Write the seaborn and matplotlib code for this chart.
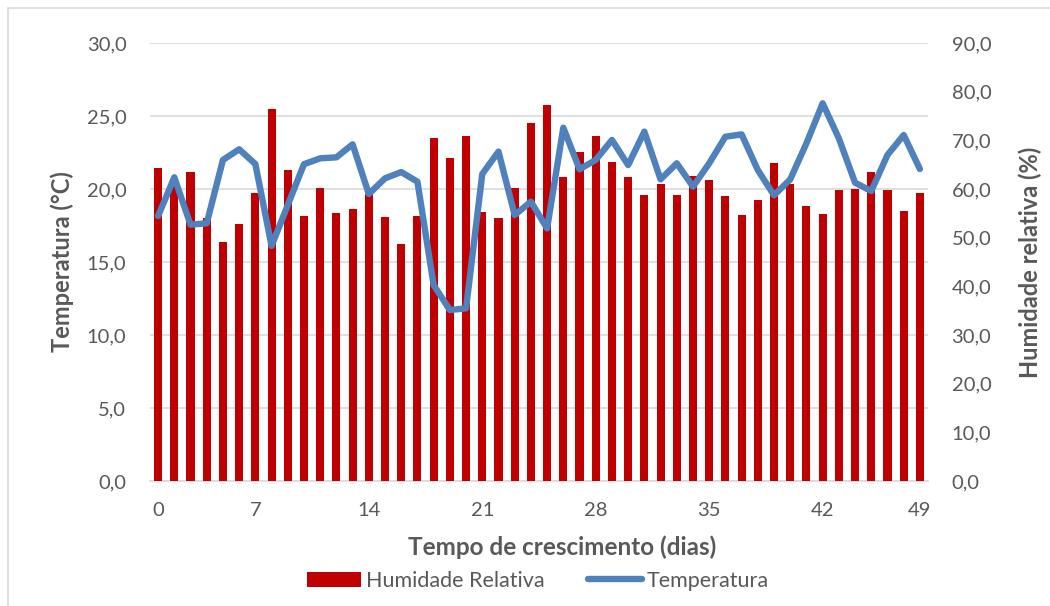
import numpy as np
import pandas as pd
import seaborn as sns
import matplotlib.pyplot as plt
from matplotlib.patches import Rectangle
from matplotlib.lines import Line2D
from matplotlib.patches import Patch

# measurement points (48 readings along the growth period)
ponto = list(range(48))

humidade = [64.4, 60.8, 63.5, 54.1, 49.2, 52.9, 59.1, 76.4, 64.0, 54.5,
            60.3, 55.1, 55.8, 58.9, 54.2, 48.6, 54.4, 70.5, 66.4, 70.8,
            55.3, 54.0, 60.3, 73.6, 77.3, 62.5, 67.7, 70.8, 65.5, 62.5,
            58.8, 61.0, 58.8, 62.7, 61.8, 58.5, 54.7, 57.7, 65.3, 61.1,
            56.6, 54.8, 59.7, 60.1, 63.4, 59.8, 55.4, 59.1]

temperatura = [18.15, 20.8, 17.56, 17.65, 21.99, 22.72, 21.71, 16.1, 18.9, 21.7,
               22.1, 22.17, 23.06, 19.66, 20.73, 21.16, 20.5, 13.42, 11.71, 11.83,
               21.03, 22.56, 18.22, 19.13, 17.3, 24.2, 21.35, 21.99, 23.36, 21.64,
               23.93, 20.66, 21.76, 20.16, 21.76, 23.58, 23.74, 21.3, 19.57, 20.66,
               23.13, 25.87, 23.47, 20.43, 19.86, 22.33, 23.7, 21.37]

tick_pos = [0, 6, 13, 20, 27, 34, 41, 47]
tick_lab = ['0', '7', '14', '21', '28', '35', '42', '49']

df = pd.DataFrame({'ponto': ponto, 'Humidade': humidade, 'Temperatura': temperatura})

sns.set_theme(style='white')
plt.rcParams['font.family'] = ['Lato', 'DejaVu Sans']

grey = '#595959'
red = '#C00000'
blue = '#4F81BD'

fig = plt.figure(figsize=(10.5, 6.06), dpi=100)
ax = fig.add_axes([150/1050, 1-481/606, 778/1050, 438/606])
axh = ax.twinx()
axt = ax.twinx()

# humidity bars on right scale
sns.barplot(data=df, x='ponto', y='Humidade', ax=axh, color=red, width=0.5,
            errorbar=None, saturation=1, edgecolor='none')
# temperature line on left scale
sns.lineplot(data=df, x='ponto', y='Temperatura', ax=axt, color=blue, linewidth=4.6,
             solid_joinstyle='round', solid_capstyle='round')

ax.set_ylim(0, 30)
axt.set_ylim(0, 30)
axh.set_ylim(0, 90)
ax.set_xlim(-0.5, 47.5)

ax.set_yticks(np.arange(0, 31, 5))
ax.set_yticklabels([f'{v:.1f}'.replace('.', ',') for v in np.arange(0, 31, 5)])
axh.set_yticks(np.arange(0, 91, 10))
axh.set_yticklabels([f'{v:.1f}'.replace('.', ',') for v in np.arange(0, 91, 10)])
axt.set_yticks([])
axt.set_ylabel('')
axh.set_xlabel('')

ax.set_xticks(tick_pos)
ax.set_xticklabels(tick_lab)

ax.grid(axis='y', color='#D9D9D9', linewidth=1.2)
ax.grid(axis='x', visible=False)
for a in (ax, axh, axt):
    for s in a.spines.values():
        s.set_visible(False)
ax.spines['bottom'].set_visible(True)
ax.spines['bottom'].set_color('#D9D9D9')
ax.spines['bottom'].set_linewidth(1.2)

ax.tick_params(axis='y', length=0, pad=17, labelsize=14.5, labelcolor=grey)
ax.tick_params(axis='x', length=0, pad=15, labelsize=14.5, labelcolor=grey)
axh.tick_params(axis='y', length=0, pad=17, labelsize=14.5, labelcolor=grey)

ax.set_ylabel('Temperatura (°C)', fontsize=17, fontweight='bold', color=grey)
ax.yaxis.set_label_coords(-(150-74)/778, 0.5)
axh.set_ylabel('Humidade relativa (%)', fontsize=17, fontweight='bold', color=grey)
axh.yaxis.set_label_coords(1+(1019-928)/778, 0.5)
ax.set_xlabel('Tempo de crescimento (dias)', fontsize=17.5, fontweight='bold', color=grey)
ax.xaxis.set_label_coords((562-150)/778, -(535-481)/438)

handles = [Patch(facecolor=red, edgecolor='none'),
           Line2D([0], [0], color=blue, linewidth=4.6, solid_capstyle='round')]
leg = fig.legend(handles, ['Humidade Relativa', 'Temperatura'], loc='center',
                 bbox_to_anchor=(538/1050, 1-581/606), ncol=2, frameon=False,
                 fontsize=15.5, handlelength=2.5, handletextpad=0.25, columnspacing=2.0)
for t in leg.get_texts():
    t.set_color(grey)

# chart border (cropped at right and bottom)
fig.patches.append(Rectangle((8/1050, -0.05), 1.1, 1-8/606+0.05, transform=fig.transFigure,
                             fill=False, edgecolor='#D9D9D9', linewidth=1.2))

fig.savefig('out.png', dpi=100)
